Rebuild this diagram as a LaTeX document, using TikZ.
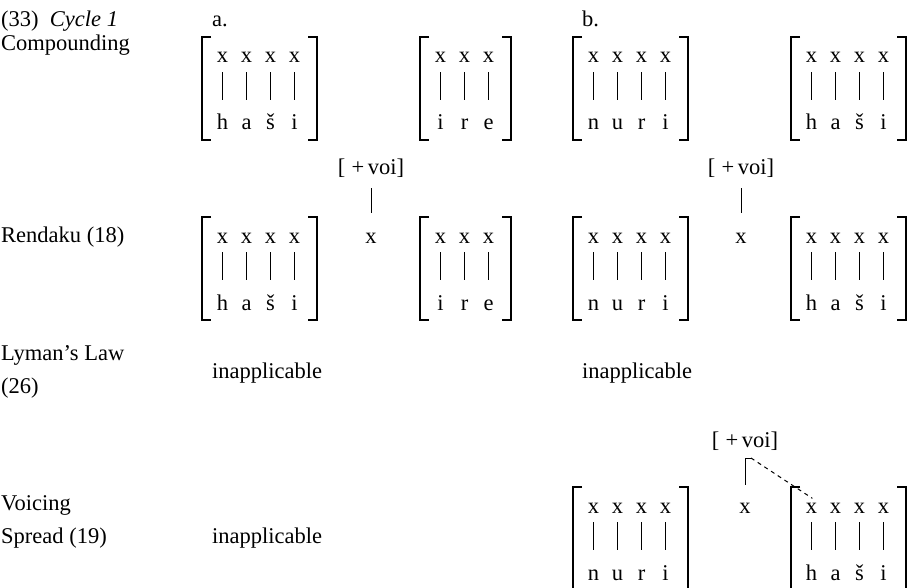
\documentclass[tikz,border=0pt]{standalone}
\usepackage{fontspec}
\setmainfont{Liberation Serif}
\usepackage{tikz}
\usetikzlibrary{calc}

\tikzset{
  lab/.style={anchor=base west, inner sep=0pt},
  seg/.style={anchor=base, inner sep=0pt, text height=15pt, text depth=0pt},
  voi/.style={anchor=base, inner sep=0pt, text depth=0pt},
  brk/.style={line width=1.8pt},
  tie/.style={line width=1pt, shorten <=9pt, shorten >=15pt},
}

% #1 name, #2 left, #3 top, #4 columns, #5 segments
\newcommand{\segm}[5]{%
  \draw[brk] (#2+9,#3) -- (#2,#3) -- (#2,#3+103) -- (#2+9,#3+103);
  \draw[brk] (#2+10+24*#4,#3) -- (#2+19+24*#4,#3) -- (#2+19+24*#4,#3+103) -- (#2+10+24*#4,#3+103);
  \foreach \s [count=\i] in {#5} {
    \node[seg] (#1x\i) at (#2+24*\i-3.5,#3+26) {x};
    \node[seg] (#1s\i) at (#2+24*\i-3.5,#3+93) {\s};
    \draw[tie] (#1x\i) -- (#1s\i);
  }
}
\newcommand{\plusvoi}{[\;+\,voi]}

\begin{document}
\begin{tikzpicture}[x=1pt, y=-1pt, font=\fontsize{22.5}{27}\selectfont]
    \useasboundingbox (0,0) rectangle (909,588);

    \node[lab] (num) at (1,27) {(33)\enspace\textit{Cycle 1}};
    \node[lab] (cola) at (212,27) {a.};
    \node[lab] (colb) at (582,27) {b.};

    \node[lab] (comp) at (1,51) {Compounding};
    \segm{ca1}{202}{37}{4}{h,a,š,i}
    \segm{ca2}{420}{37}{3}{i,r,e}
    \segm{cb1}{573}{37}{4}{n,u,r,i}
    \segm{cb2}{791}{37}{4}{h,a,š,i}

    \node[lab] (rend) at (1,242) {Rendaku (18)};
    \segm{ra1}{202}{217}{4}{h,a,š,i}
    \segm{ra2}{420}{217}{3}{i,r,e}
    \segm{rb1}{573}{217}{4}{n,u,r,i}
    \segm{rb2}{791}{217}{4}{h,a,š,i}
    \node[voi] (ravoi) at (371,175) {\plusvoi};
    \node[seg] (rax) at (371,243) {x};
    \draw[tie, shorten <=13pt, shorten >=15pt] (ravoi) -- (rax);
    \node[voi] (rbvoi) at (741,175) {\plusvoi};
    \node[seg] (rbx) at (741,243) {x};
    \draw[tie, shorten <=13pt, shorten >=15pt] (rbvoi) -- (rbx);

    \node[lab] (lyman) at (1,360) {Lyman's Law};
    \node[lab] (lymannum) at (1,393) {(26)};
    \node[lab] (lyna) at (212,378) {inapplicable};
    \node[lab] (lynb) at (582,378) {inapplicable};

    \node[lab] (voic) at (1,510) {Voicing};
    \node[lab] (spread) at (1,543) {Spread (19)};
    \node[lab] (vona) at (212,543) {inapplicable};
    \segm{vb1}{573}{487}{4}{n,u,r,i}
    \segm{vb2}{791}{487}{4}{h,a,š,i}
    \node[voi] (vbvoi) at (745,447) {\plusvoi};
    \node[seg] (vbx) at (745,513) {x};
    \coordinate (vtop) at (745,458);
    \coordinate (vtick) at (751,458);
    \draw[line width=1pt, shorten <=13pt] (vbx) -- (vtop) -- (vtick);
    \draw[line width=1pt, dash pattern=on 4pt off 4pt, shorten >=-1pt] (vtick) -- (vb2x1.north);
\end{tikzpicture}
\end{document}
